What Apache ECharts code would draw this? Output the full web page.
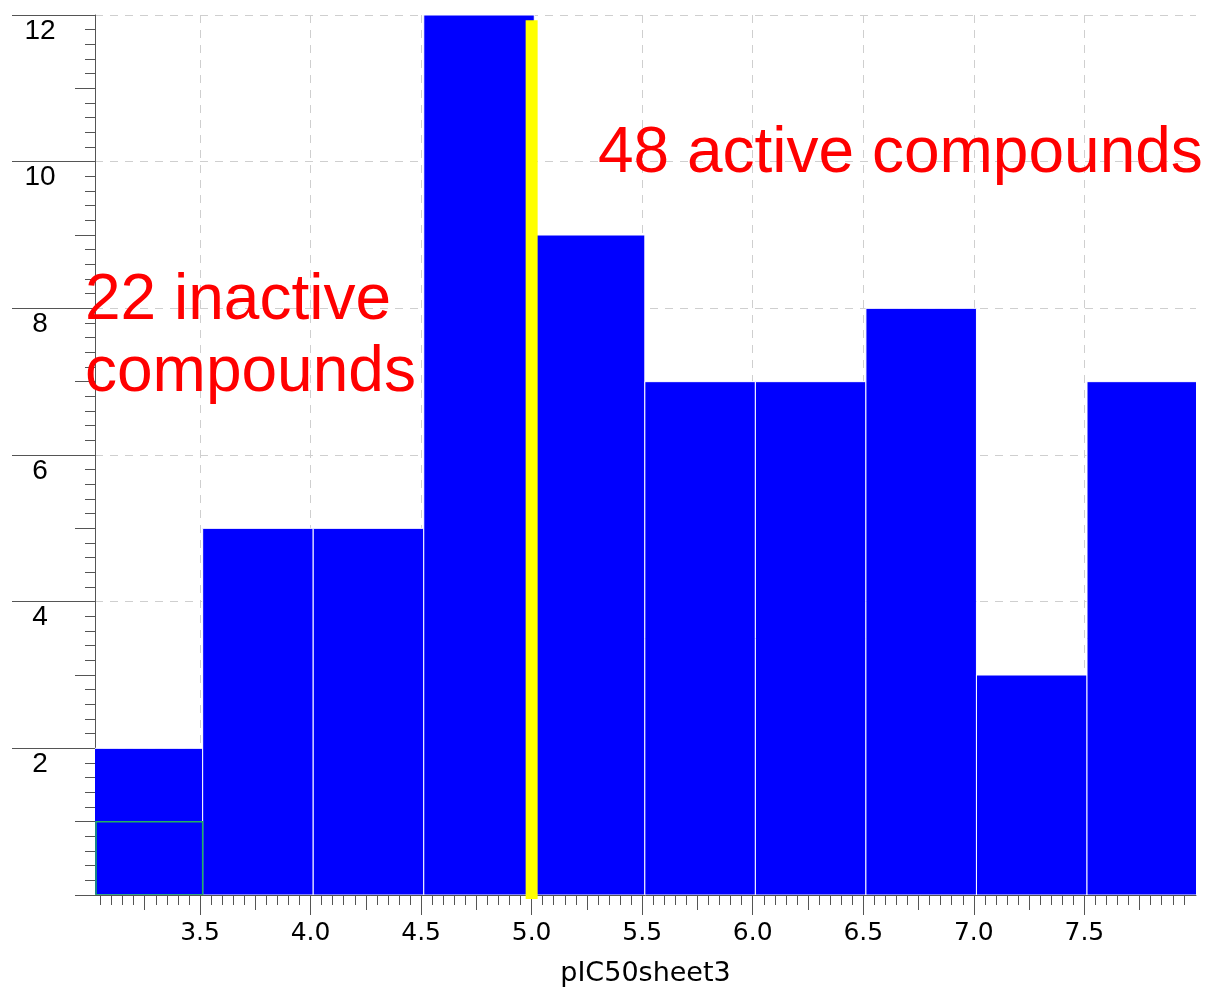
<!DOCTYPE html>
<html>
<head>
<meta charset="utf-8">
<script src="https://cdn.jsdelivr.net/npm/echarts@6/dist/echarts.min.js"></script>
<style>html,body{margin:0;padding:0;background:#fff;}#c{width:1208px;height:990px;}</style>
</head>
<body>
<div id="c"></div>
<script>
// ---- data ----
const binStarts = [3.012, 3.512, 4.012, 4.512, 5.012, 5.512, 6.012, 6.512, 7.012, 7.512];
const binEnds   = [3.512, 4.012, 4.512, 5.012, 5.512, 6.012, 6.512, 7.012, 7.512, 8.012];
const counts    = [2, 5, 5, 12, 9, 7, 7, 8, 3, 7];
const greenBox  = [3.025, 3.512, 1];       // [start, end, height]
const yellowLine = [5.0, 11.93];           // [x, top]
const xMajorTicks = [3.5, 4.0, 4.5, 5.0, 5.5, 6.0, 6.5, 7.0, 7.5];
const yMajorTicks = [2, 4, 6, 8, 10, 12];
const xName = 'pIC50sheet3';
const activeText = '48 active compounds';
const inactiveText = '22 inactive\ncompounds';
const XMIN = 3.025, XMAX = 8.005, YMIN = 0, YMAX = 12;

// tick helpers (axis decoration only)
const xMidTicks = [], xMinorTicks = [];
for (let i = 61; i <= 159; i++) xMinorTicks.push(+(i * 0.05).toFixed(2));
for (let i = 13; i <= 31; i++) xMidTicks.push(+(i * 0.25).toFixed(2));
const yMidTicks = [], yMinorTicks = [];
for (let i = 0; i <= 12; i++) yMidTicks.push(i);
for (let i = 0; i <= 60; i++) yMinorTicks.push(+(i * 0.2).toFixed(2));

const bars = binStarts.map((s, i) => [s, binEnds[i], counts[i]]);

const gridPos = { left: 95, right: 12, top: 15, bottom: 95, outerBoundsMode: 'none' };
const tickColor = '#555';
const dash = { color: '#cfcfcf', type: [8, 7], width: 1 };

function xAx(gi, extra) {
  return Object.assign({
    type: 'value', gridIndex: gi, min: XMIN, max: XMAX, position: 'bottom',
    axisLine: { show: false }, axisLabel: { show: false }, splitLine: { show: false },
    axisTick: { show: false }
  }, extra);
}
function yAx(gi, extra) {
  return Object.assign({
    type: 'value', gridIndex: gi, min: YMIN, max: YMAX, position: 'left',
    axisLine: { show: false }, axisLabel: { show: false }, splitLine: { show: false },
    axisTick: { show: false }
  }, extra);
}

const option = {
  backgroundColor: '#fff',
  animation: false,
  grid: [Object.assign({}, gridPos), Object.assign({}, gridPos), Object.assign({}, gridPos)],
  xAxis: [
    xAx(0, {
      name: xName, nameLocation: 'middle', nameGap: 65,
      nameTextStyle: { fontSize: 27, color: '#000', fontFamily: 'DejaVu Sans' },
      axisLine: { show: true, lineStyle: { color: tickColor, width: 1 } },
      axisTick: { show: true, length: 20, customValues: xMajorTicks, lineStyle: { color: tickColor } },
      axisLabel: { show: true, customValues: xMajorTicks, margin: 26, fontSize: 25, color: '#000',
        fontFamily: 'DejaVu Sans', formatter: v => v.toFixed(1) },
      splitLine: { show: true, lineStyle: dash }
    }),
    xAx(1, { axisTick: { show: true, length: 15, customValues: xMidTicks, lineStyle: { color: tickColor } } }),
    xAx(2, { axisTick: { show: true, length: 10, customValues: xMinorTicks, lineStyle: { color: tickColor } } })
  ],
  yAxis: [
    yAx(0, {
      interval: 2,
      axisLine: { show: true, lineStyle: { color: tickColor, width: 1 } },
      axisTick: { show: true, length: 83, customValues: yMajorTicks, lineStyle: { color: tickColor } },
      axisLabel: { show: true, customValues: yMajorTicks, margin: 55, align: 'center', verticalAlign: 'top',
        fontSize: 28, color: '#000', fontFamily: 'Liberation Sans', padding: [2, 0, 0, 0] },
      splitLine: { show: true, lineStyle: dash }
    }),
    yAx(1, { axisTick: { show: true, length: 20, customValues: yMidTicks, lineStyle: { color: tickColor } } }),
    yAx(2, { axisTick: { show: true, length: 10, customValues: yMinorTicks, lineStyle: { color: tickColor } } })
  ],
  series: [
    {
      type: 'custom', xAxisIndex: 0, yAxisIndex: 0, clip: true, z: 2,
      data: bars,
      renderItem: function (params, api) {
        const p0 = api.coord([api.value(0), api.value(2)]);
        const p1 = api.coord([api.value(1), 0]);
        return {
          type: 'rect',
          shape: { x: p0[0], y: p0[1], width: p1[0] - p0[0], height: p1[1] - p0[1] },
          style: { fill: '#0000ff', stroke: '#ffffff', lineWidth: 1 }
        };
      }
    },
    {
      type: 'custom', xAxisIndex: 0, yAxisIndex: 0, clip: true, z: 3,
      data: [greenBox],
      renderItem: function (params, api) {
        const p0 = api.coord([api.value(0), api.value(2)]);
        const p1 = api.coord([api.value(1), 0]);
        return {
          type: 'rect',
          shape: { x: p0[0] + 1, y: p0[1], width: p1[0] - p0[0] - 1, height: p1[1] - p0[1] },
          style: { fill: null, stroke: '#22b060', lineWidth: 1.5 }
        };
      }
    },
    {
      type: 'custom', xAxisIndex: 0, yAxisIndex: 0, z: 4,
      data: [yellowLine],
      renderItem: function (params, api) {
        const p0 = api.coord([api.value(0), api.value(1)]);
        const p1 = api.coord([api.value(0), 0]);
        return {
          type: 'line',
          shape: { x1: p0[0], y1: p0[1], x2: p1[0], y2: p1[1] + 4 },
          style: { stroke: '#ffff00', lineWidth: 12 }
        };
      }
    }
  ],
  graphic: [
    { type: 'text', z: 100, style: { text: activeText, x: 598, y: 154, verticalAlign: 'middle',
        fill: '#ff0000', fontSize: 64, fontFamily: 'Liberation Sans' } },
    { type: 'text', z: 100, style: { text: inactiveText, x: 85, y: 337, verticalAlign: 'middle', lineHeight: 72,
        fill: '#ff0000', fontSize: 64, fontFamily: 'Liberation Sans' } }
  ]
};

const chart = echarts.init(document.getElementById('c'), null, { renderer: 'canvas' });
chart.setOption(option);
</script>
</body>
</html>
